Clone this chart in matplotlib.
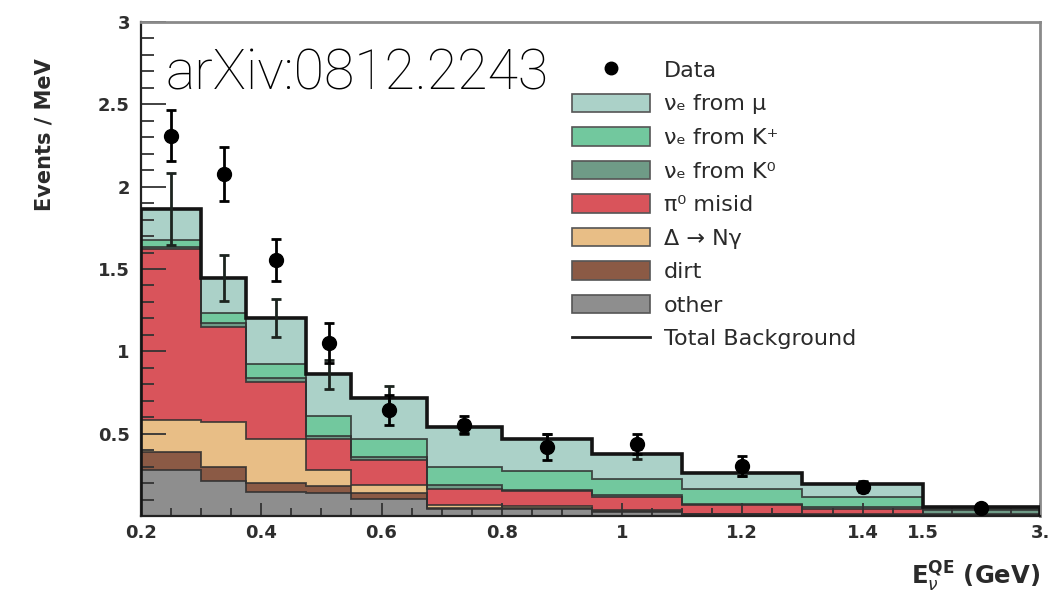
import numpy as np
import matplotlib
matplotlib.use("Agg")
import matplotlib.pyplot as plt
from matplotlib.patches import Patch
from matplotlib.lines import Line2D

# Reconstructed neutrino energy bins (GeV)
bin_edges = [0.2, 0.3, 0.375, 0.475, 0.55, 0.675, 0.8, 0.95, 1.1, 1.3, 1.5, 3.0]

# Background components, events / MeV, stacked from the bottom up
other = [0.28, 0.21, 0.145, 0.14, 0.105, 0.04, 0.04, 0.025, 0.008, 0.006, 0.004]
dirt = [0.11, 0.085, 0.055, 0.045, 0.035, 0.01, 0.006, 0.005, 0.003, 0.002, 0.001]
delta_ngamma = [0.19, 0.275, 0.265, 0.095, 0.05, 0.014, 0.012, 0.005, 0.003, 0.002, 0.001]
pi0_misid = [1.04, 0.58, 0.35, 0.185, 0.15, 0.10, 0.093, 0.08, 0.05, 0.034, 0.004]
nue_k0 = [0.015, 0.02, 0.025, 0.02, 0.02, 0.025, 0.008, 0.01, 0.01, 0.01, 0.025]
nue_kplus = [0.04, 0.065, 0.085, 0.12, 0.11, 0.108, 0.117, 0.1, 0.091, 0.064, 0.01]
nue_mu = [0.19, 0.21, 0.275, 0.255, 0.248, 0.241, 0.189, 0.153, 0.095, 0.078, 0.007]

# Systematic uncertainty on the total background
background_err = [0.22, 0.14, 0.115, 0.09, 0.07, 0.04, 0.035, 0.03, 0.02, 0.015, 0.005]

# Observed events with statistical errors
data_values = [2.31, 2.075, 1.555, 1.05, 0.645, 0.555, 0.42, 0.435, 0.305, 0.175, 0.05]
data_err = [0.155, 0.165, 0.125, 0.12, 0.09, 0.05, 0.08, 0.06, 0.06, 0.03, 0.01]

component_labels = ["\u03bd\u2091 from \u03bc", "\u03bd\u2091 from K\u207a", "\u03bd\u2091 from K\u2070",
                    "\u03c0\u2070 misid", "\u0394 \u2192 N\u03b3", "dirt", "other"]

x_ticks = [0.2, 0.4, 0.6, 0.8, 1.0, 1.2, 1.4, 1.5, 3.0]
x_tick_labels = ["0.2", "0.4", "0.6", "0.8", "1", "1.2", "1.4", "1.5", "3."]
x_minor_ticks = [0.25, 0.3, 0.35, 0.45, 0.5, 0.55, 0.65, 0.7, 0.75, 0.85, 0.9, 0.95,
                 1.05, 1.1, 1.15, 1.25, 1.3, 1.35, 1.45, 1.875, 2.25, 2.625]
y_ticks = [0.5, 1.0, 1.5, 2.0, 2.5, 3.0]
y_tick_labels = ["0.5", "1", "1.5", "2", "2.5", "3"]

plt.rcParams["font.family"] = ["DejaVu Sans"]
plt.rcParams["mathtext.fontset"] = "dejavusans"

# Axis is linear up to 1.5 GeV, then the overflow bin is squeezed
BREAK = 1.5
SQUEEZE = 0.13


def forward(x):
    x = np.asarray(x, dtype=float)
    return np.where(x <= BREAK, x, BREAK + (x - BREAK) * SQUEEZE)


def inverse(u):
    u = np.asarray(u, dtype=float)
    return np.where(u <= BREAK, u, BREAK + (u - BREAK) / SQUEEZE)


fig = plt.figure(figsize=(10.59, 5.95), dpi=100)
ax = fig.add_axes([141 / 1059, 79 / 595, 899 / 1059, 494 / 595])
ax.set_xscale("function", functions=(forward, inverse))
ax.set_xlim(0.2, 3.0)
ax.set_ylim(0, 3)

edges = np.array(bin_edges)
centers = 0.5 * (edges[:-1] + edges[1:])

stack = [
    (other, "#8e8e8e"),
    (dirt, "#8b5a45"),
    (delta_ngamma, "#e8be86"),
    (pi0_misid, "#d9545b"),
    (nue_k0, "#6f9b87"),
    (nue_kplus, "#72c89e"),
    (nue_mu, "#abd1c8"),
]

bottom = np.zeros(len(centers))
for values, color in stack:
    top = bottom + np.array(values)
    ax.stairs(top, edges, baseline=bottom, fill=True, color=color, lw=0, zorder=1)
    ax.stairs(top, edges, color="#2f2f2f", lw=1.3, alpha=0.85, zorder=1.5)
    bottom = top
total = bottom

ax.stairs(total, edges, color="#141414", lw=2.6, zorder=3)
ax.errorbar(centers, total, yerr=background_err, fmt="none", ecolor="#1c241f",
            elinewidth=2.0, capsize=3.5, capthick=2.0, zorder=4)
ax.errorbar(centers, data_values, yerr=data_err, fmt="o", color="black", ms=10,
            elinewidth=2.0, capsize=3.5, capthick=2.0, zorder=6)

# Axes frame and ticks
for side in ("left", "bottom"):
    ax.spines[side].set_color("#222222")
    ax.spines[side].set_linewidth(1.6)
for side in ("top", "right"):
    ax.spines[side].set_color("#8a8a8a")
    ax.spines[side].set_linewidth(2.0)

ax.set_xticks(x_ticks)
ax.set_xticklabels(x_tick_labels)
ax.set_xticks(x_minor_ticks, minor=True)
ax.set_yticks(y_ticks)
ax.set_yticklabels(y_tick_labels)
ax.set_yticks(np.arange(0.1, 3.0, 0.1), minor=True)

ax.tick_params(axis="both", which="both", direction="in", color="#333333", width=1.3,
               labelcolor="#2e2e2e")
ax.tick_params(axis="y", which="major", length=18, pad=8)
ax.tick_params(axis="y", which="minor", length=9)
ax.tick_params(axis="x", which="major", length=9.5, pad=6)
ax.tick_params(axis="x", which="minor", length=6)
for lbl in ax.get_xticklabels() + ax.get_yticklabels():
    lbl.set_fontweight("bold")
    lbl.set_fontsize(13)

fig.text(45 / 1059, 1 - 135 / 595, "Events / MeV", rotation=90, ha="center", va="center",
         fontsize=15, fontweight="bold", color="#2a2a2a")
fig.text(1040 / 1059, 1 - 577 / 595, r"$\mathbf{E}_{\nu}^{\mathbf{QE}}$ (GeV)", ha="right",
         va="center", fontsize=17.5, fontweight="bold", color="#2a2a2a")

fig.text(165 / 1059, 1 - 89 / 595, "arXiv:0812.2243", ha="left", va="baseline",
         fontsize=40, family=["Roboto", "DejaVu Sans"], fontweight="light", color="black")

handles = [Line2D([], [], marker="o", ls="none", color="black", ms=9)]
for values, color in reversed(stack):
    handles.append(Patch(facecolor=color, edgecolor="#555555", lw=1.2))
handles.append(Line2D([], [], color="#222222", lw=2.0))
labels = ["Data"] + component_labels + ["Total Background"]

leg = fig.legend(handles, labels, loc="upper left", bbox_to_anchor=(572 / 1059, 1 - 60 / 595),
                 frameon=False, borderpad=0, borderaxespad=0, fontsize=16, handlelength=3.5,
                 handleheight=0.9, handletextpad=0.65, labelspacing=0.57)
for t in leg.get_texts():
    t.set_color("#2a2a2a")

fig.savefig("out.png", dpi=100)
